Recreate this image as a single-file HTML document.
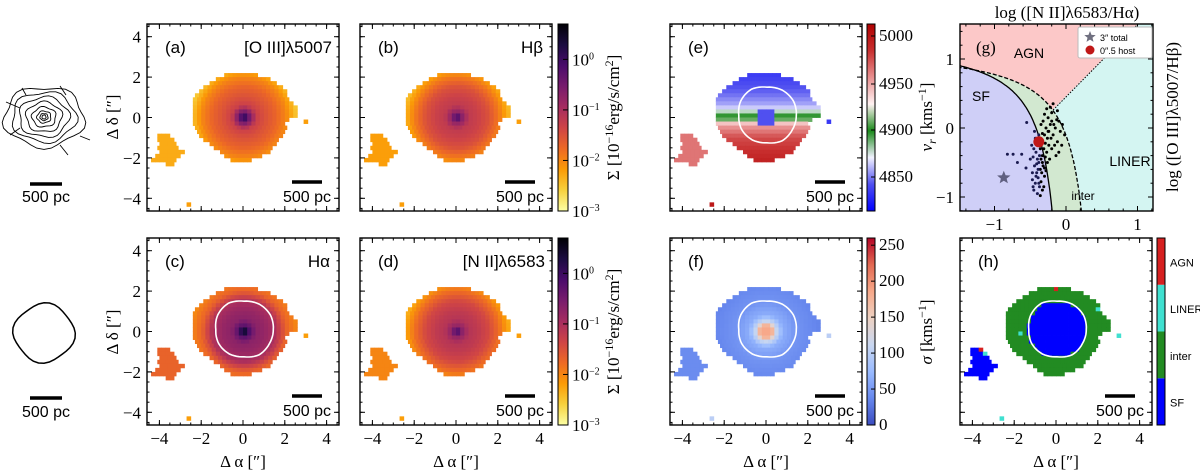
<!DOCTYPE html>
<html><head><meta charset="utf-8">
<style>
html,body{margin:0;padding:0;background:#fff}
svg{display:block}
.t{font-family:"Liberation Serif",serif;font-size:17px;fill:#000}
.s{font-family:"Liberation Sans",sans-serif;fill:#000}
</style></head><body>
<svg id="fig" width="1200" height="472" viewBox="0 0 1200 472" xmlns="http://www.w3.org/2000/svg"></svg>
<script>
// ---------- data ----------
const mainRowsY   = [2.1,1.9,1.7,1.5,1.3,1.1,0.9,0.7,0.5,0.3,0.1,-0.1,-0.3,-0.5,-0.7,-0.9,-1.1,-1.3,-1.5,-1.7,-1.9,-2.1];
const mainRowsX0  = [-0.8,-1.2,-1.5,-1.8,-2.0,-2.2,-2.3,-2.3,-2.3,-2.3,-2.3,-2.3,-2.3,-2.2,-2.1,-2.0,-1.8,-1.5,-1.3,-1.0,-0.8,-0.5];
const mainRowsX1  = [0.6,1.2,1.5,1.8,2.0,2.1,2.2,2.3,2.5,2.6,2.6,2.2,1.9,2.0,1.9,1.8,1.7,1.6,1.4,1.2,0.9,0.3];
const smallRowsY  = [-0.9,-1.1,-1.3,-1.5,-1.7,-1.9,-2.1,-2.3];
const smallRowsX0 = [-4.0,-4.0,-3.9,-4.0,-3.9,-4.1,-4.3,-3.6];
const smallRowsX1 = [-3.6,-3.4,-3.2,-3.2,-2.9,-3.0,-3.3,-3.4];
const isoX = [-2.6,3.0];
const isoY = [-4.3,-0.2];
const profR = [0,0.3,0.6,1.0,1.5,2.0,2.5,3.0];
const profA = [0.3,-0.6,-1.3,-1.5,-1.7,-2.0,-2.5,-2.8];
const profB = [0.0,-0.8,-1.2,-1.3,-1.5,-1.9,-2.4,-2.8];
const profC = [0.7,-0.3,-0.7,-0.8,-1.0,-1.7,-2.0,-2.4];
const profD = [0.0,-0.8,-1.1,-1.2,-1.4,-1.8,-2.3,-2.7];
const smallSig = [-2.3,-2.2,-1.7,-2.0];
const velY = [-2.2,-1.0,-0.4,-0.1,0.2,0.6,1.2,2.2];
const velV = [4995,4975,4945,4905,4895,4870,4855,4840];
const velCore = 4850, velSmall = 4960;
const sigR = [0,0.3,0.5,0.8,1.5,2.5];
const sigV = [190,180,110,65,45,35];
const sigSmall = 40;
const contR = [1.4,1.45,1.45,1.4,1.5,1.45,1.35,1.4,1.4,1.35,1.45,1.4];
const bptX = [-0.45,-0.42,-0.4,-0.38,-0.44,-0.36,-0.41,-0.39,-0.35,-0.43,-0.37,-0.46,-0.33,-0.31,-0.34,-0.3,-0.28,-0.26,-0.24,-0.22,-0.2,-0.18,-0.25,-0.3,-0.15,-0.12,-0.2,-0.27,-0.23,-0.32,-0.28,-0.3,-0.33,-0.36,-0.38,-0.4,-0.47,-0.48,-0.5,-0.43,-0.35,-0.32,-0.27,-0.22,-0.2,-0.1,-0.08,-0.05,-0.16,-0.14,-0.26,-0.24,-0.29,-0.34,-0.42,-0.45,-0.4,-0.36,-0.33,-0.31,-0.47,-0.44,-0.55,-0.82,-0.74,-0.62,-0.68,-0.56,-0.18,-0.12,-0.02,-0.06,-0.1,-0.37,-0.39,-0.41,-0.35,-0.29,-0.21,-0.17,-0.13,-0.25,-0.33,-0.46,-0.38,-0.3];
const bptY = [-0.3,-0.35,-0.45,-0.5,-0.55,-0.6,-0.65,-0.72,-0.78,-0.8,-0.85,-0.42,-0.4,-0.3,-0.2,-0.1,0.0,-0.15,-0.05,0.05,0.1,-0.1,0.15,0.2,0.0,-0.2,-0.3,-0.35,-0.45,-0.55,-0.62,-0.7,-0.5,-0.3,-0.1,-0.2,-0.65,-0.25,-0.45,-0.15,0.05,0.1,0.28,0.3,0.22,0.1,-0.05,0.05,-0.25,-0.4,-0.5,-0.25,-0.42,-0.65,-0.7,-0.9,-0.95,-0.98,-0.9,-0.85,-0.75,-0.05,0.08,-0.38,-0.38,-0.38,-0.5,-0.58,0.35,0.25,-0.1,-0.25,-0.35,-0.4,-0.6,-0.52,-0.45,-0.22,-0.15,0.05,0.12,-0.05,-0.08,-0.85,-0.8,-0.58];
const starPt = [-0.87,-0.72];
const hostPt = [-0.38,-0.2];
const clsX = [2.2,2.4,-2.1,-1.7,-1.5,-0.5,0.0,2.0,3.0,-3.6,-3.4,-4.0,-3.3,-2.6,1.2,-2.2];
const clsY = [1.5,1.3,1.1,-0.1,-1.9,-1.7,2.1,1.1,-0.1,-0.9,-1.1,-2.1,-1.5,-4.3,-1.3,0.5];
const clsC = [2,2,3,2,2,2,3,2,1,3,2,3,2,2,0,2];

// ---------- helpers ----------
const svg = document.getElementById('fig');
const NS = 'http://www.w3.org/2000/svg';
function mk(tag, attrs, parent){const e=document.createElementNS(NS,tag);for(const k in attrs)e.setAttribute(k,attrs[k]);(parent||svg).appendChild(e);return e;}
function interp(xs,ys,x){if(x<=xs[0])return ys[0];for(let i=1;i<xs.length;i++){if(x<=xs[i]){const t=(x-xs[i-1])/(xs[i]-xs[i-1]);return ys[i-1]+t*(ys[i]-ys[i-1]);}}return ys[ys.length-1];}
function hex(c){return [parseInt(c.slice(1,3),16),parseInt(c.slice(3,5),16),parseInt(c.slice(5,7),16)];}
function cmap(stops,t){t=Math.max(0,Math.min(1,t));const n=stops.length-1;const i=Math.min(n-1,Math.floor(t*n));const f=t*n-i;const a=hex(stops[i]),b=hex(stops[i+1]);return 'rgb('+a.map((v,k)=>Math.round(v+(b[k]-v)*f)).join(',')+')';}
const infernoR = ['#fcffa4','#f7d13d','#fb9b06','#ed6925','#cf4446','#a52c60','#781c6d','#4a0c6b','#1b0c41','#000004'];
function sigColor(v){return cmap(infernoR,(v+3)/3.7);}
function velColor(v){const vs=[4815,4850,4885,4900,4915,4950,4985,5015];const cs=['#0000ff','#5050f0','#f2f2ff','#1a8a1a','#fff2f2','#e89090','#c83030','#b00000'];
  for(let i=1;i<vs.length;i++){if(v<=vs[i]){const f=Math.max(0,(v-vs[i-1])/(vs[i]-vs[i-1]));return cmap([cs[i-1],cs[i]],f);}}return cs[cs.length-1];}
const coolwarm=['#3b4cc0','#6788ee','#9abbff','#c9d7f0','#edd1c2','#f7a889','#e26952','#b40426'];
function sdColor(v){return cmap(coolwarm,v/260);}
const clsColors=['#0000ff','#228b22','#40e0d0','#d62020'];

const PW=192, PH=187, SX=20.9, SY=20.2, CELL=0.2;
function mapPanel(name,x0,y0){return {name,x0,y0,xs:v=>x0+PW/2+v*SX,ys:v=>y0+PH/2-v*SY};}

function eachCell(cb){
  for(let i=0;i<mainRowsY.length;i++){for(let x=mainRowsX0[i];x<=mainRowsX1[i]+1e-6;x+=CELL){cb(x,mainRowsY[i],0);}}
  for(let i=0;i<smallRowsY.length;i++){for(let x=smallRowsX0[i];x<=smallRowsX1[i]+1e-6;x+=CELL){cb(x,smallRowsY[i],1);}}
  for(let i=0;i<isoX.length;i++)cb(isoX[i],isoY[i],2);
}
function drawCells(p,colorFn){
  const g=mk('g',{});
  
  
  eachCell((x,y,kind)=>{
    const c=colorFn(x,y,kind);
    mk('rect',{x:(p.xs(x-CELL/2)).toFixed(2),y:(p.ys(y+CELL/2)).toFixed(2),width:(CELL*SX+0.4).toFixed(2),height:(CELL*SY+0.4).toFixed(2),fill:c},g);
  });
}
function contour(p){
  let d='';
  for(let k=0;k<=72;k++){const a=k*5;const r=interp([0,30,60,90,120,150,180,210,240,270,300,330,360],contR.concat([contR[0]]),a);
    const rad=a*Math.PI/180;const x=p.xs(0.05+r*Math.cos(rad)),y=p.ys(0.1+r*Math.sin(rad));d+=(k?'L':'M')+x.toFixed(1)+' '+y.toFixed(1);}
  const e=mk('path',{d:d+'Z',fill:'none',stroke:'#fff','stroke-width':1.6});
  
  
}
function frameTicks(x0,y0,w,h,xsF,ysF,xMaj,xMin,yMaj,yMin,name){
  const g=mk('g',{stroke:'#000','stroke-width':1,fill:'none'});
  
  
  mk('rect',{x:x0,y:y0,width:w,height:h,'stroke-width':1.4},g);
  const tk=(x1,y1,x2,y2)=>mk('line',{x1,y1,x2,y2},g);
  xMin.forEach(v=>{const x=xsF(v);tk(x,y0+h,x,y0+h-2.5);tk(x,y0,x,y0+2.5);});
  xMaj.forEach(v=>{const x=xsF(v);tk(x,y0+h,x,y0+h-5);tk(x,y0,x,y0+5);});
  yMin.forEach(v=>{const y=ysF(v);tk(x0,y,x0+2.5,y);tk(x0+w,y,x0+w-2.5,y);});
  yMaj.forEach(v=>{const y=ysF(v);tk(x0,y,x0+5,y);tk(x0+w,y,x0+w-5,y);});
}
function txt(s,x,y,cls,attrs,name){const e=mk('text',Object.assign({x,y,class:cls},attrs||{}));e.textContent=s;return e;}
const mapMaj=[-4,-2,0,2,4];const mapMin=[];for(let v=-4.5;v<=4.51;v+=0.5)mapMin.push(v);
const tickLab=v=>(v<0?'−':'')+Math.abs(v);
function mapFrame(p,leftLabels,bottomLabels){
  frameTicks(p.x0,p.y0,PW,PH,p.xs,p.ys,mapMaj,mapMin,mapMaj,mapMin,p.name);
  if(leftLabels)mapMaj.forEach(v=>txt(tickLab(v),p.x0-6,p.ys(v)+6,'t',{'text-anchor':'end','font-size':18},p.name+'-ytick-label'));
  if(bottomLabels){mapMaj.forEach(v=>txt(tickLab(v),p.xs(v),p.y0+PH+19,'t',{'text-anchor':'middle','font-size':18},p.name+'-xtick-label'));
    txt('Δ α [″]',p.x0+PW/2,p.y0+PH+42,'t',{'text-anchor':'middle','font-size':20},p.name+'-x-axis-title');}
  const sb=mk('line',{x1:p.x0+145,x2:p.x0+175,y1:p.y0+158,y2:p.y0+158,stroke:'#000','stroke-width':3.5});
  
  
  txt('500 pc',p.x0+184,p.y0+178,'s',{'text-anchor':'end','font-size':16},p.name+'-scale-label');
}
function sigmaFill(prof,si){return (x,y,k)=>{if(k===1)return sigColor(smallSig[si]);if(k===2)return sigColor(-2.2);const r=Math.hypot(x-0.05,y);return sigColor(interp(profR,prof,r));};}

// ---------- panels a-d ----------
const pa=mapPanel('panel-a',147,24), pb=mapPanel('panel-b',360,24), pc=mapPanel('panel-c',147,238), pd=mapPanel('panel-d',360,238);
drawCells(pa,sigmaFill(profA,0));drawCells(pb,sigmaFill(profB,1));drawCells(pc,sigmaFill(profC,2));drawCells(pd,sigmaFill(profD,3));
contour(pc);
mapFrame(pa,true,false);mapFrame(pb,false,false);mapFrame(pc,true,true);mapFrame(pd,false,true);
txt('(a)',165,53,'s',{'font-size':17},'panel-a-label');txt('[O III]λ5007',332,53,'s',{'font-size':17,'text-anchor':'end'},'panel-a-title');
txt('(b)',378,53,'s',{'font-size':17},'panel-b-label');txt('Hβ',543,53,'s',{'font-size':17,'text-anchor':'end'},'panel-b-title');
txt('(c)',165,267,'s',{'font-size':17},'panel-c-label');txt('Hα',330,267,'s',{'font-size':17,'text-anchor':'end'},'panel-c-title');
txt('(d)',378,267,'s',{'font-size':17},'panel-d-label');txt('[N II]λ6583',545,267,'s',{'font-size':17,'text-anchor':'end'},'panel-d-title');
txt('Δ δ [″]',0,0,'t',{'font-size':20,'text-anchor':'middle',transform:'translate(118,117) rotate(-90)'},'panel-a-y-axis-title');
txt('Δ δ [″]',0,0,'t',{'font-size':20,'text-anchor':'middle',transform:'translate(118,332) rotate(-90)'},'panel-c-y-axis-title');

// colorbars
const defs=mk('defs',{});
function grad(id,stops){const g=mk('linearGradient',{id,x1:0,y1:1,x2:0,y2:0},defs);stops.forEach((c,i)=>mk('stop',{offset:i/(stops.length-1),'stop-color':c},g));}
grad('gInf',infernoR);
grad('gVel',['#0000ff','#5050f0','#f2f2ff','#1a8a1a','#fff2f2','#e89090','#c83030','#b00000']);
grad('gCw',coolwarm);
function cbar(x,y,w,h,fill,name){const r=mk('rect',{x,y,width:w,height:h,fill,stroke:'#000','stroke-width':1});}
const sigTicks=[0,-1,-2,-3];
function sigBar(y0,nm){
  cbar(558,y0,10,PH,'url(#gInf)',nm);
  const ysc=v=>y0+PH-(v+3)/3.7*PH;
  sigTicks.forEach(v=>{mk('line',{x1:563,x2:568,y1:ysc(v),y2:ysc(v),stroke:'#000'});
    const t=txt('10',572,ysc(v)+6,'t',{'font-size':14},nm+'-tick-label');const s=mk('tspan',{dy:-6,'font-size':10},t);s.textContent=v===0?'0':'−'+Math.abs(v);});
  const tt=txt('Σ [10',0,0,'t',{'font-size':17,'text-anchor':'middle',transform:'translate(619,'+(y0+PH/2)+') rotate(-90)'},nm+'-title');
  const s1=mk('tspan',{dy:-6,'font-size':12},tt);s1.textContent='−16';const s2=mk('tspan',{dy:6},tt);s2.textContent='erg/s/cm';const s3=mk('tspan',{dy:-6,'font-size':12},tt);s3.textContent='2';const s4=mk('tspan',{dy:6},tt);s4.textContent=']';
}
sigBar(24,'sigma-colorbar-top');sigBar(238,'sigma-colorbar-bottom');

function unitTitle(sym,sub,x,y,nm){
  const t=txt('',0,0,'t',{'font-size':17,'text-anchor':'middle',transform:'translate('+x+','+y+') rotate(-90)'},nm);
  const a=mk('tspan',{'font-style':'italic'},t);a.textContent=sym;
  if(sub){const b=mk('tspan',{dy:4,'font-size':12,'font-style':'italic'},t);b.textContent=sub;const c=mk('tspan',{dy:-4},t);c.textContent=' [kms';}
  else{const c=mk('tspan',{},t);c.textContent=' [kms';}
  const d=mk('tspan',{dy:-6,'font-size':12},t);d.textContent='−1';const e=mk('tspan',{dy:6},t);e.textContent=']';
}

// ---------- panel e ----------
const pe=mapPanel('panel-e',670,24);
drawCells(pe,(x,y,k)=>{if(k===1)return velColor(velSmall);if(k===2)return velColor(x<0?5000:4840);if(Math.abs(x)<0.4&&Math.abs(y-0.05)<0.4)return velColor(velCore);return velColor(interp(velY,velV,y));});
contour(pe);mapFrame(pe,false,false);
txt('(e)',688,53,'s',{'font-size':17},'panel-e-label');
cbar(867,24,8,PH,'url(#gVel)','velocity-colorbar');
const velTicks=[5000,4950,4900,4850];const velTickY=[36,84,130,177];
velTicks.forEach((v,i)=>{mk('line',{x1:871,x2:875,y1:velTickY[i],y2:velTickY[i],stroke:'#000'});txt(String(v),879,velTickY[i]+5,'t',{'font-size':14},'velocity-colorbar-tick');});
unitTitle('v','r',932,117,'velocity-colorbar-title');

// ---------- panel f ----------
const pf=mapPanel('panel-f',670,238);
drawCells(pf,(x,y,k)=>{if(k===1)return sdColor(sigSmall);if(k===2)return sdColor(100);return sdColor(interp(sigR,sigV,Math.hypot(x,y)));});
contour(pf);mapFrame(pf,false,true);
txt('(f)',688,267,'s',{'font-size':17},'panel-f-label');
cbar(867,238,8,PH,'url(#gCw)','dispersion-colorbar');
[0,50,100,150,200,250].forEach(v=>{const y=238+PH-v/260*PH;mk('line',{x1:871,x2:875,y1:y,y2:y,stroke:'#000'});txt(String(v),879,y+5,'t',{'font-size':14},'dispersion-colorbar-tick');});
unitTitle('σ','',932,332,'dispersion-colorbar-title');

// ---------- panel h ----------
const ph=mapPanel('panel-h',960,238);
drawCells(ph,(x,y,k)=>{for(let i=0;i<clsX.length;i++){if(Math.abs(clsX[i]-x)<0.09&&Math.abs(clsY[i]-y)<0.09)return clsColors[clsC[i]];}
  if(k===1)return clsColors[0];if(k===2)return clsColors[2];return Math.hypot(x-0.05,y-0.1)<1.4?clsColors[0]:clsColors[1];});
contour(ph);mapFrame(ph,false,true);
txt('(h)',978,267,'s',{'font-size':17},'panel-h-label');
const clsNames=['SF','inter','LINER','AGN'];
clsNames.forEach((n,i)=>{const h=PH/4;const y=238+PH-(i+1)*h;const r=mk('rect',{x:1157,y,width:8,height:h,fill:clsColors[i]});
  txt(n,1170,y+h/2+5,'s',{'font-size':11},'class-label-'+n.toLowerCase());});
mk('rect',{x:1157,y:238,width:8,height:PH,fill:'none',stroke:'#000'});

// ---------- panel g (BPT) ----------
const gx0=960,gy0=24,gw=193,gh=187;
const bx=v=>1066+v*71.5, by=v=>128-v*69;
const gg=mk('g',{});
const cp=mk('clipPath',{id:'gclip'},defs);mk('rect',{x:gx0,y:gy0,width:gw,height:gh},cp);
const gc=mk('g',{'clip-path':'url(#gclip)'},gg);
mk('rect',{x:gx0,y:gy0,width:gw,height:gh,fill:'#d4f5f2'},gc);
const ka=x=>0.61/(x-0.05)+1.3, ke=x=>0.61/(x-0.47)+1.19, ls=x=>1.05*x+0.45;
let kaPts=[],kePts=[];for(let x=-1.6;x<=0.0;x+=0.01){const y=ka(x);if(x<0.04&&y>-1.4)kaPts.push([x,y]);}
for(let x=-1.6;x<=0.4;x+=0.01){const y=ke(x);if(y>-1.4)kePts.push([x,y]);}
const P=a=>a.map(p=>bx(p[0]).toFixed(1)+','+by(p[1]).toFixed(1)).join(' ');
let agn=[[-1.6,2]];kePts.forEach(p=>{if(p[1]>=ls(p[0]))agn.push(p);});agn.push([1.0,1.5],[1.5,2]);
mk('polygon',{points:P(agn),fill:'#fcc8c8'},gc);
mk('polygon',{points:P(kePts.concat(kaPts.slice().reverse())),fill:'#d2e8d0'},gc);
mk('polygon',{points:P([[-1.6,-1.4]].concat(kaPts).concat([[kaPts[kaPts.length-1][0],-1.4]])),fill:'#cfcff7'},gc);
mk('polyline',{points:P(kaPts),fill:'none',stroke:'#000','stroke-width':1.3},gc);
mk('polyline',{points:P(kePts),fill:'none',stroke:'#000','stroke-width':1.3,'stroke-dasharray':'4,2'},gc);
const xi=-0.21;mk('line',{x1:bx(xi),y1:by(ls(xi)),x2:bx(1.1),y2:by(ls(1.1)),stroke:'#000','stroke-width':1,'stroke-dasharray':'1.5,1.5'},gc);
bptX.forEach((x,i)=>{const c=mk('circle',{cx:bx(x).toFixed(1),cy:by(bptY[i]).toFixed(1),r:1.5,fill:x<-0.36?'#1a1a50':'#000'},gc);
  
  });
function star(cx,cy,R,r){let s=[];for(let k=0;k<10;k++){const a=-Math.PI/2+k*Math.PI/5;const rr=k%2?r:R;s.push((cx+rr*Math.cos(a)).toFixed(1)+','+(cy+rr*Math.sin(a)).toFixed(1));}return s.join(' ');}
const st=mk('polygon',{points:star(bx(starPt[0]),by(starPt[1]),7,3),fill:'#606080'},gc);
const hc=mk('circle',{cx:bx(hostPt[0]),cy:by(hostPt[1]),r:5.5,fill:'#c01818'},gc);
txt('AGN',1029,58,'s',{'font-size':14,fill:'#e02020','text-anchor':'middle'},'region-agn-label');
txt('SF',981,101,'s',{'font-size':14,fill:'#2020d0','text-anchor':'middle'},'region-sf-label');
txt('LINER',1130,166,'s',{'font-size':14,fill:'#40d0c8','text-anchor':'middle'},'region-liner-label');
txt('inter',1083,200,'s',{'font-size':12,fill:'#208020','text-anchor':'middle'},'region-inter-label');
txt('(g)',976,53,'t',{'font-size':18},'panel-g-label');
const gxMin=[],gyMin=[];for(let v=-1.4;v<=1.21;v+=0.2)gxMin.push(+v.toFixed(1));for(let v=-1.2;v<=1.5;v+=0.2)gyMin.push(+v.toFixed(1));
frameTicks(gx0,gy0,gw,gh,bx,by,[-1,0,1],gxMin,[-1,0,1],gyMin,'panel-g');
[-1,0,1].forEach(v=>{txt(tickLab(v),bx(v),230,'t',{'text-anchor':'middle','font-size':18},'bpt-xtick-label');txt(tickLab(v),gx0-6,by(v)+6,'t',{'text-anchor':'end','font-size':18},'bpt-ytick-label');});
txt('log ([N II]λ6583/Hα)',1067,18,'t',{'font-size':17,'text-anchor':'middle'},'bpt-x-axis-title');
txt('log ([O III]λ5007/Hβ)',0,0,'t',{'font-size':17,'text-anchor':'middle',transform:'translate(1178,117) rotate(-90)'},'bpt-y-axis-title');
const lg=mk('g',{});
mk('rect',{x:1078,y:27,width:74,height:31,fill:'#fff',stroke:'#bbb',rx:2},lg);
mk('polygon',{points:star(1090,37,6,2.6),fill:'#707080'},lg);
mk('circle',{cx:1090,cy:50,r:4.5,fill:'#c01818'},lg);
txt('3″ total',1100,41,'s',{'font-size':9},'legend-total');
txt('0″.5 host',1100,54,'s',{'font-size':9},'legend-host');

// ---------- left-column contour sketches ----------
const lc=mk('g',{fill:'none',stroke:'#000','stroke-width':0.9});
[[40,30],[32,25],[25,20],[18,15],[12,10],[7,6],[4,3.5],[2,2]].forEach((r,i)=>{let d='';for(let k=0;k<=36;k++){const a=k*10*Math.PI/180;const w=1+0.08*Math.sin(5*a+i);d+=(k?'L':'M')+(44+r[0]*w*Math.cos(a)).toFixed(1)+' '+(117+r[1]*w*Math.sin(a)).toFixed(1);}mk('path',{d},lc);});
mk('path',{d:'M6 102 L20 108 M66 95 L60 86 M80 136 L90 140 M60 145 L68 155 M20 128 L10 135 M26 95 L22 88'},lc);
const lc2=mk('path',{d:'',fill:'none',stroke:'#000','stroke-width':1.5});
let d2='';for(let k=0;k<=36;k++){const a=k*10*Math.PI/180;const w=1+0.05*Math.sin(4*a+1);d2+=(k?'L':'M')+(44+30*w*Math.cos(a)).toFixed(1)+' '+(333+29*w*Math.sin(a)).toFixed(1);}
lc2.setAttribute('d',d2);
[[184,197],[398,412]].forEach((p,i)=>{const l=mk('line',{x1:30,x2:62,y1:p[0],y2:p[0],stroke:'#000','stroke-width':3.5});
  txt('500 pc',46,p[1]+5,'s',{'font-size':16,'text-anchor':'middle'},'left-scale-label');});
</script>
</body></html>
